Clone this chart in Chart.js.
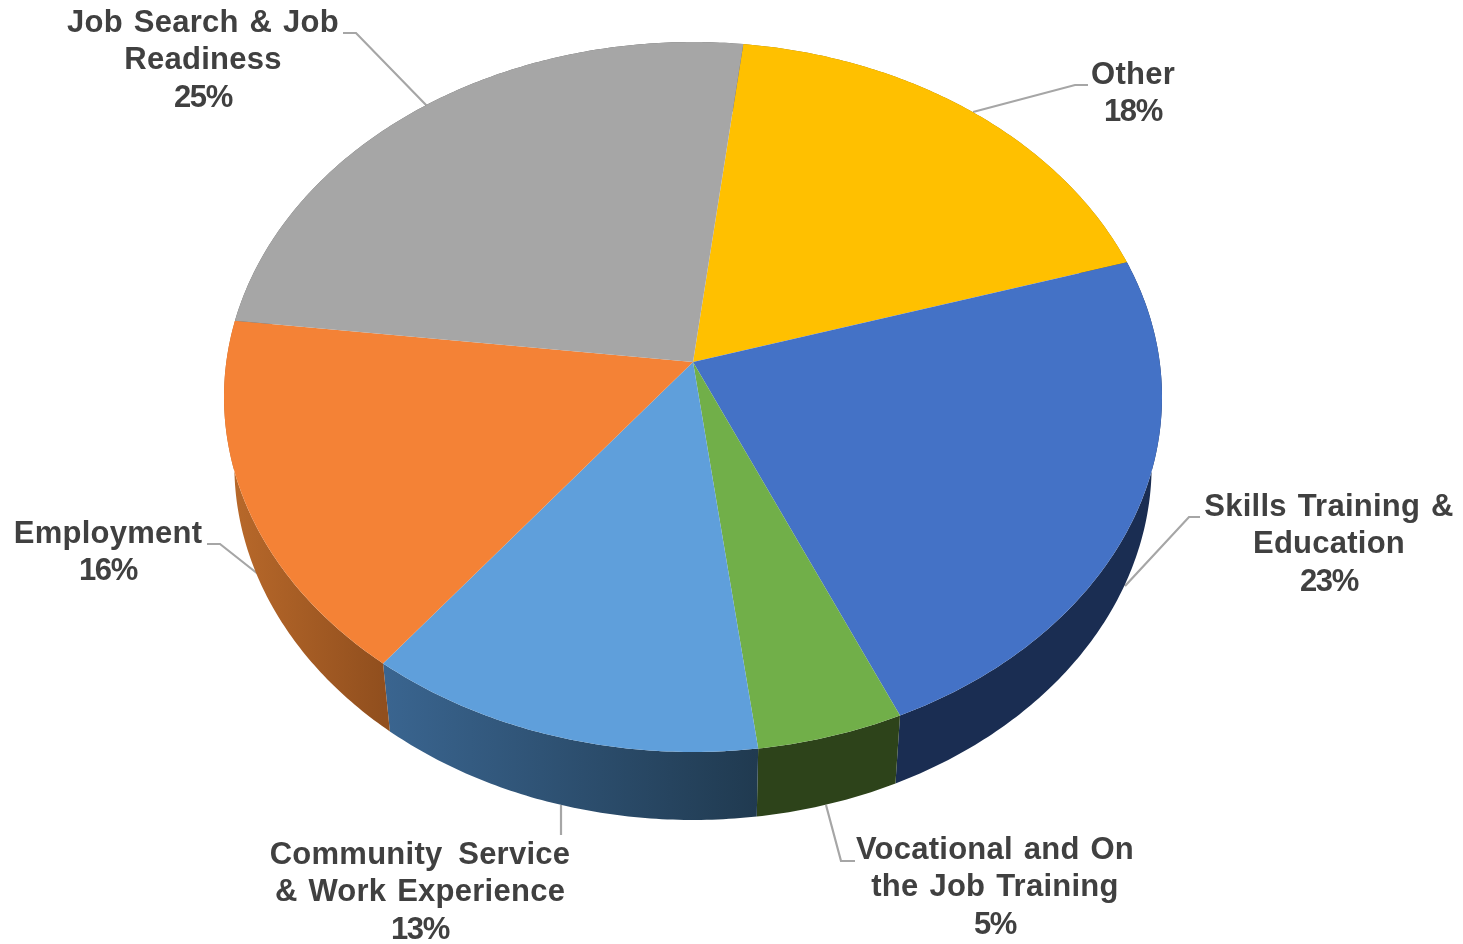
<!DOCTYPE html>
<html>
<head>
<meta charset="utf-8">
<title>Pie</title>
<script src="https://cdn.jsdelivr.net/npm/chart.js@4/dist/chart.umd.min.js"></script>
<style>
    html, body { margin: 0; background: #fff; }
    canvas { display: block; }
</style>
</head>
<body>
<canvas id="pieChart" width="1463" height="944"></canvas>
<script>
    // Values, clockwise from the top
    var categories = ["Other", "Skills Training &\nEducation", "Vocational and On\nthe Job Training", "Community  Service\n& Work Experience", "Employment", "Job Search & Job\nReadiness"];
    var shares = [18.4, 23.1, 4.6, 12.5, 16.4, 25.0];
    var topColors = ["#FFC000", "#4472C6", "#71AF49", "#5F9FDB", "#F48236", "#A6A6A6"];
    var sideColors = [["#997300", "#997300"], ["#1A2D52", "#1A2D52"], ["#2D431A", "#2D431A"], ["#3A6590", "#203A50"], ["#BA6A2B", "#914F1E"], ["#636363", "#636363"]];

    // Label centre x and first baseline y
    var labelX = [1133, 1329, 995, 420, 108, 203];
    var labelY = [84, 516, 859, 864, 543, 32];
    var leaders = [
        [[1088, 85], [1075, 85], [973, 112]],
        [[1200, 517], [1189, 517], [1125, 586]],
        [[855, 861], [841, 861], [826, 805]],
        [[561, 835], [561, 805]],
        [[207, 544], [220, 544], [258, 574]],
        [[343, 33], [356, 33], [427, 106]]
    ];

    // Perspective of the tilted disc
    var apexX = 693, apexY = 362;
    var radiusX = 466.7, radiusY = 351.5, tilt = -0.0986;
    var depth = 68, bottomScale = 0.978;

    function topPoint(angle) {
        var u = Math.cos(angle), v = Math.sin(angle);
        var w = 1 + tilt * v;
        return [apexX + radiusX * u / w, apexY + radiusY * v / w];
    }

    function bottomPoint(angle) {
        var p = topPoint(angle);
        return [apexX + (p[0] - apexX) * bottomScale, p[1] + depth];
    }

    function rim(start, end) {
        var pts = [];
        var steps = Math.max(4, Math.ceil((end - start) * 90));
        for (var i = 0; i <= steps; i++) {
            pts.push(start + (end - start) * i / steps);
        }
        return pts;
    }

    function drawLeaders(ctx) {
        ctx.strokeStyle = "#A6A6A6";
        ctx.lineWidth = 2.2;
        ctx.lineJoin = "miter";
        leaders.forEach(function (line) {
            ctx.beginPath();
            line.forEach(function (p, i) {
                if (i === 0) ctx.moveTo(p[0], p[1]);
                else ctx.lineTo(p[0], p[1]);
            });
            ctx.stroke();
        });
    }

    function drawSide(ctx, arc, i) {
        var angles = rim(arc.startAngle, arc.endAngle);
        var xs = angles.map(function (a) { return topPoint(a)[0]; });
        var grad = ctx.createLinearGradient(Math.min.apply(null, xs), 0, Math.max.apply(null, xs), 0);
        grad.addColorStop(0, sideColors[i][0]);
        grad.addColorStop(1, sideColors[i][1]);
        ctx.fillStyle = grad;
        ctx.beginPath();
        angles.forEach(function (a, k) {
            var p = topPoint(a);
            if (k === 0) ctx.moveTo(p[0], p[1]);
            else ctx.lineTo(p[0], p[1]);
        });
        angles.slice().reverse().forEach(function (a) {
            var p = bottomPoint(a);
            ctx.lineTo(p[0], p[1]);
        });
        ctx.closePath();
        ctx.fill();
    }

    function drawTop(ctx, arc, i) {
        ctx.fillStyle = topColors[i];
        ctx.beginPath();
        ctx.moveTo(apexX, apexY);
        rim(arc.startAngle, arc.endAngle).forEach(function (a) {
            var p = topPoint(a);
            ctx.lineTo(p[0], p[1]);
        });
        ctx.closePath();
        ctx.fill();
    }

    function drawLabels(ctx) {
        ctx.fillStyle = "#404040";
        ctx.font = "bold 31px 'Liberation Sans'";
        ctx.textAlign = "center";
        ctx.textBaseline = "alphabetic";
        categories.forEach(function (name, i) {
            var lines = name.split("\n");
            lines.forEach(function (text, k) {
                ctx.letterSpacing = "0.25px";
                // the double gap in Community  Service is already wide
                ctx.wordSpacing = text.indexOf("  ") >= 0 ? "-1px" : "2px";
                ctx.fillText(text, labelX[i], labelY[i] + k * 37.3);
            });
            ctx.letterSpacing = "-1.3px";
            ctx.wordSpacing = "0px";
            ctx.fillText(Math.round(shares[i]) + "%", labelX[i], labelY[i] + lines.length * 37.3);
        });
    }

    // Chart.js works out the slice angles, this only projects them
    var tiltedPie = {
        id: "tiltedPie",
        beforeDatasetDraw: function (chart, args) {
            var ctx = chart.ctx;
            var arcs = args.meta.data;
            ctx.save();
            drawLeaders(ctx);
            arcs.forEach(function (arc, i) { drawSide(ctx, arc, i); });
            arcs.forEach(function (arc, i) { drawTop(ctx, arc, i); });
            drawLabels(ctx);
            ctx.restore();
            return false;
        }
    };

    new Chart(document.getElementById("pieChart"), {
        type: "pie",
        data: {
            labels: categories,
            datasets: [{ data: shares, backgroundColor: topColors, borderWidth: 0 }]
        },
        options: {
            responsive: false,
            animation: false,
            rotation: 6.8,
            plugins: { legend: { display: false }, tooltip: { enabled: false } }
        },
        plugins: [tiltedPie]
    });
</script>
</body>
</html>
